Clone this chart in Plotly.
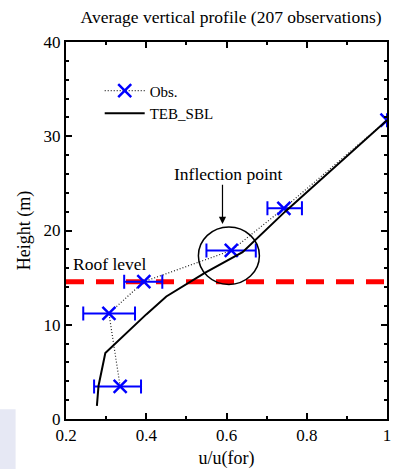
import plotly.graph_objects as go

# Observations
obs_u = [0.335, 0.307, 0.394, 0.612, 0.743, 1.0]
obs_h = [3.46, 11.2, 14.57, 17.88, 22.36, 31.7]
obs_err_plus = [0.052, 0.065, 0.046, 0.061, 0.045, 0.0]
obs_err_minus = [0.065, 0.064, 0.049, 0.062, 0.041, 0.0]

# TEB_SBL model profile
teb_u = [0.277, 0.281, 0.298, 0.40, 0.45, 0.546, 0.64, 0.746, 1.0]
teb_h = [1.4, 3.5, 7.0, 11.1, 13.0, 15.5, 17.7, 22.0, 31.7]

roof_level = 14.57
roof_x = [0.2, 1.0]

FONT = "Liberation Serif"

fig = go.Figure()

fig.add_trace(go.Scatter(
    x=roof_x, y=[roof_level, roof_level], mode="lines",
    line=dict(color="#ff0000", width=5, dash="18px,12px"),
    showlegend=False, hoverinfo="skip"))

fig.add_trace(go.Scatter(
    x=obs_u, y=obs_h, name="Obs.", mode="lines+markers",
    line=dict(color="#222222", width=1.2, dash="1px,2px"),
    marker=dict(symbol="x-thin", size=13, color="blue",
                line=dict(color="blue", width=2.5)),
    error_x=dict(type="data", array=obs_err_plus, arrayminus=obs_err_minus,
                 color="blue", thickness=2, width=7)))

fig.add_trace(go.Scatter(
    x=teb_u, y=teb_h, name="TEB_SBL", mode="lines",
    line=dict(color="black", width=2)))

fig.add_shape(type="circle", xref="x", yref="y",
              x0=0.530, x1=0.682, y0=14.28, y1=20.38,
              line=dict(color="black", width=1.5))

# rounded artifact in bottom-left corner
fig.add_shape(type="rect", xref="paper", yref="paper",
              x0=-0.21, x1=-0.157, y0=-0.14, y1=0.026,
              fillcolor="#e6e8f4", line=dict(width=0), layer="below")

fig.add_annotation(x=0.59, y=20.7, ax=0.59, ay=25.0, xref="x", yref="y",
                   axref="x", ayref="y", text="", showarrow=True,
                   arrowhead=2, arrowsize=1.2, arrowwidth=1.2, arrowcolor="black")
fig.add_annotation(x=0.604, y=26.0, xref="x", yref="y", text="Inflection point",
                   showarrow=False, font=dict(family=FONT, size=17.5, color="black"))
fig.add_annotation(x=0.212, y=16.4, xref="x", yref="y", text="Roof level",
                   xanchor="left", showarrow=False,
                   font=dict(family=FONT, size=17.5, color="black"))

axis_common = dict(
    showline=True, linecolor="black", linewidth=2, mirror="ticks",
    ticks="inside", ticklen=6, tickcolor="black", tickwidth=1.5,
    showgrid=False, zeroline=False,
    tickfont=dict(family=FONT, size=17, color="black"),
)

fig.update_xaxes(range=[0.2, 1.0], tickvals=[0.2, 0.4, 0.6, 0.8, 1.0],
                 ticktext=["0.2", "0.4", "0.6", "0.8", "1"],
                 minor=dict(dtick=0.1, tick0=0.2, ticks="inside", ticklen=3, tickcolor="black"),
                 title=dict(text="u/u(for)", font=dict(family=FONT, size=18, color="black"), standoff=7),
                 **axis_common)
fig.update_yaxes(range=[0, 40], tickvals=[0, 10, 20, 30, 40],
                 minor=dict(dtick=2, ticks="inside", ticklen=3, tickcolor="black"),
                 title=dict(text="Height (m)", font=dict(family=FONT, size=18, color="black"), standoff=8),
                 **axis_common)

fig.update_layout(
    width=395, height=469,
    margin=dict(l=66, r=4, t=42, b=49),
    paper_bgcolor="white", plot_bgcolor="white",
    title=dict(text="Average vertical profile (207 observations)",
               font=dict(family=FONT, size=17.5, color="black"),
               x=0.585, xanchor="center", y=0.978, yanchor="top"),
    legend=dict(x=0.105, y=0.914, xanchor="left", yanchor="top",
                bgcolor="rgba(0,0,0,0)", font=dict(family=FONT, size=15, color="black"),
                tracegroupgap=0, itemwidth=40),
    showlegend=True,
)

fig.write_html("out.html")
